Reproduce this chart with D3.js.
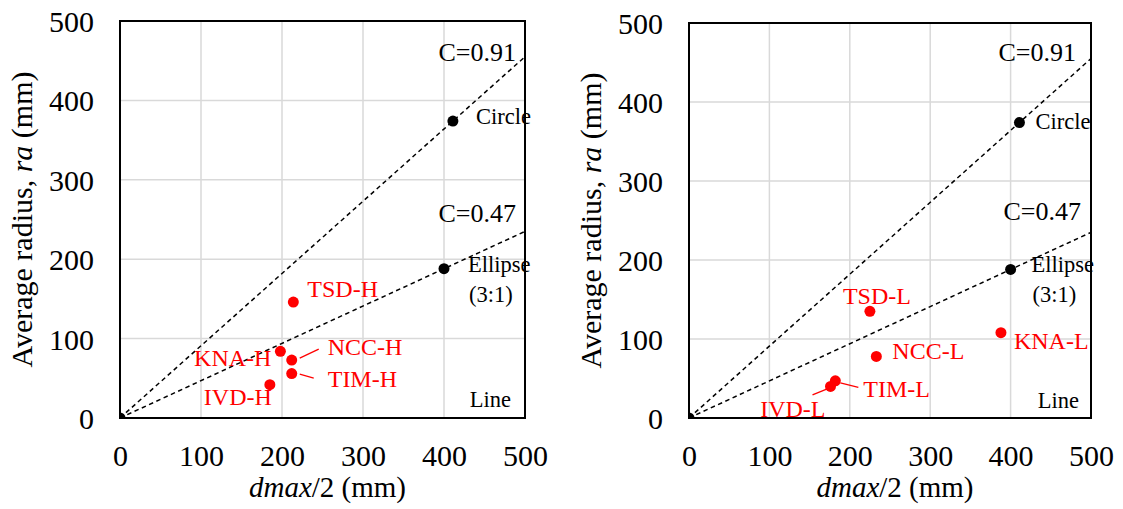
<!DOCTYPE html>
<html>
<head>
<meta charset="utf-8">
<script src="https://cdn.jsdelivr.net/npm/d3@7/dist/d3.min.js"></script>
<style>
  html, body { margin: 0; padding: 0; background: #fff; }
  svg, svg text { font-family: "Liberation Serif", "Times New Roman", serif; }
  svg { display: block; }
</style>
</head>
<body>
<svg id="chart" width="1123" height="509"></svg>
<script>
// ---- data ----
const xTicks = [0, 100, 200, 300, 400, 500];
const yTicks = [0, 100, 200, 300, 400, 500];
const lineSlopes = [0.91, 0.47];
const lineLabels = ["C=0.91", "C=0.47"];
const refNames = ["Circle", "Ellipse", "Line"];
const refX = [411, 400, 0];
const refY = [374, 188, 0];
const hNames = ["TSD-H", "KNA-H", "NCC-H", "TIM-H", "IVD-H"];
const hX = [214, 198, 212, 212, 185];
const hY = [146, 84, 73, 56, 42];
const lNames = ["TSD-L", "KNA-L", "NCC-L", "TIM-L", "IVD-L"];
const lX = [225, 388, 233, 182, 176];
const lY = [135, 108, 78, 47, 40];

// ---- layout (pixels) ----
const FONT = "Liberation Serif";
const panels = [
  {
    box: { left: 120, right: 525, top: 21, bottom: 418 },
    names: hNames, xs: hX, ys: hY,
    lab: [[14, -5, "start"], [-9, 15, "end"], [36, -5, "start"], [36, 13, "start"], [2, 20, "end"]],
    leaders: [null, null, [8, -2, 27, -11], [8, 0.5, 22, 4.5], null],
    refLab: [[23, 3], [24, 3]],
    cLab: [[-9, 61], [-9, 222]],
    lineLab: [-14, -11],
    yTitleX: 32
  },
  {
    box: { left: 689, right: 1091, top: 23, bottom: 418 },
    names: lNames, xs: lX, ys: lY,
    lab: [[-27, -7, "start"], [13, 16, "start"], [16, 3, "start"], [28, 16, "start"], [-5, 31, "end"]],
    leaders: [null, null, null, [5, 2, 23, 6.5], [-2, 2, -18, 8.5]],
    refLab: [[16, 6], [21, 3]],
    cLab: [[-15, 61], [-10, 220]],
    lineLab: [-12, -10],
    yTitleX: 601
  }
];

const svg = d3.select("#chart");
const RED = "#ff0000";

panels.forEach((p, pi) => {
  const b = p.box;
  const x = d3.scaleLinear().domain([0, 500]).range([b.left, b.right]);
  const y = d3.scaleLinear().domain([0, 500]).range([b.bottom, b.top]);
  const g = svg.append("g").attr("font-family", FONT);

  const clipId = "clip" + pi;
  g.append("clipPath").attr("id", clipId)
    .append("rect").attr("x", b.left).attr("y", b.top)
    .attr("width", b.right - b.left).attr("height", b.bottom - b.top);

  // gridlines
  g.append("g").selectAll("line").data(xTicks.slice(1, -1)).join("line")
    .attr("x1", d => x(d)).attr("x2", d => x(d))
    .attr("y1", b.top).attr("y2", b.bottom)
    .attr("stroke", "#d9d9d9").attr("stroke-width", 1.5);
  g.append("g").selectAll("line").data(yTicks.slice(1, -1)).join("line")
    .attr("y1", d => y(d)).attr("y2", d => y(d))
    .attr("x1", b.left).attr("x2", b.right)
    .attr("stroke", "#d9d9d9").attr("stroke-width", 1.5);

  // dashed lines
  const pg = g.append("g").attr("clip-path", `url(#${clipId})`);
  lineSlopes.forEach(s => {
    pg.append("line")
      .attr("x1", x(0)).attr("y1", y(0))
      .attr("x2", x(500)).attr("y2", y(500 * s))
      .attr("stroke", "#000").attr("stroke-width", 1.5)
      .attr("stroke-dasharray", "4.5,3.5");
  });

  // reference points
  pg.selectAll("circle.ref").data(refNames).join("circle")
    .attr("class", "ref")
    .attr("cx", (d, i) => x(refX[i])).attr("cy", (d, i) => y(refY[i]))
    .attr("r", 5.5).attr("fill", "#000");

  // red points
  pg.selectAll("circle.pt").data(p.names).join("circle")
    .attr("class", "pt")
    .attr("cx", (d, i) => x(p.xs[i])).attr("cy", (d, i) => y(p.ys[i]))
    .attr("r", 5.5).attr("fill", RED);

  // leaders
  p.names.forEach((n, i) => {
    const L = p.leaders[i];
    if (!L) return;
    const cx = x(p.xs[i]), cy = y(p.ys[i]);
    g.append("line")
      .attr("x1", cx + L[0]).attr("y1", cy + L[1])
      .attr("x2", cx + L[2]).attr("y2", cy + L[3])
      .attr("stroke", RED).attr("stroke-width", 1.3);
  });

  // red labels
  g.selectAll("text.pl").data(p.names).join("text")
    .attr("class", "pl")
    .attr("x", (d, i) => x(p.xs[i]) + p.lab[i][0])
    .attr("y", (d, i) => y(p.ys[i]) + p.lab[i][1])
    .attr("text-anchor", (d, i) => p.lab[i][2])
    .attr("font-size", 24).attr("fill", RED)
    .text(d => d);

  // ref labels
  const fsRef = 22.5;
  g.append("text").attr("x", x(refX[0]) + p.refLab[0][0]).attr("y", y(refY[0]) + p.refLab[0][1])
    .attr("font-size", fsRef).text(refNames[0]);
  g.append("text").attr("x", x(refX[1]) + p.refLab[1][0]).attr("y", y(refY[1]) + p.refLab[1][1])
    .attr("font-size", fsRef).text(refNames[1]);
  g.append("text").attr("x", x(refX[1]) + p.refLab[1][0] + 1).attr("y", y(refY[1]) + p.refLab[1][1] + 30)
    .attr("font-size", fsRef).text("(3:1)");
  g.append("text").attr("x", b.right + p.lineLab[0]).attr("y", b.bottom + p.lineLab[1])
    .attr("text-anchor", "end").attr("font-size", fsRef).text(refNames[2]);

  // C labels
  lineLabels.forEach((t, i) => {
    g.append("text").attr("x", b.right + p.cLab[i][0]).attr("y", p.cLab[i][1])
      .attr("text-anchor", "end").attr("font-size", 26).text(t);
  });

  // frame
  g.append("rect").attr("x", b.left).attr("y", b.top)
    .attr("width", b.right - b.left).attr("height", b.bottom - b.top)
    .attr("fill", "none").attr("stroke", "#000").attr("stroke-width", 2);

  // axes tick labels
  const TF = 30;
  const xa = d3.axisBottom(x).tickValues(xTicks).tickSize(0).tickPadding(0);
  const xg = g.append("g").attr("transform", `translate(0,${b.bottom})`).call(xa);
  xg.attr("font-family", FONT).attr("font-size", TF);
  xg.select(".domain").remove();
  xg.selectAll("text").attr("font-family", FONT).attr("font-size", TF)
    .attr("dy", null).attr("y", 48).attr("fill", "#000");

  const ya = d3.axisLeft(y).tickValues(yTicks).tickSize(0).tickPadding(0);
  const yg = g.append("g").attr("transform", `translate(${b.left},0)`).call(ya);
  yg.attr("font-family", FONT).attr("font-size", TF);
  yg.select(".domain").remove();
  yg.selectAll("text").attr("font-family", FONT).attr("font-size", TF)
    .attr("x", -26).attr("dy", "0.35em").attr("fill", "#000");

  // axis titles
  const xt = g.append("text").attr("x", (b.left + b.right) / 2 + 5).attr("y", 497)
    .attr("text-anchor", "middle").attr("font-size", 29).attr("font-family", FONT);
  xt.append("tspan").attr("font-style", "italic").text("dmax");
  xt.append("tspan").text("/2 (mm)");

  const yt = g.append("text")
    .attr("transform", `translate(${p.yTitleX},${(b.top + b.bottom) / 2}) rotate(-90)`)
    .attr("text-anchor", "middle").attr("font-size", 30).attr("font-family", FONT);
  yt.append("tspan").text("Average radius, ");
  yt.append("tspan").attr("font-style", "italic").text("ra");
  yt.append("tspan").text(" (mm)");
});
</script>
</body>
</html>
